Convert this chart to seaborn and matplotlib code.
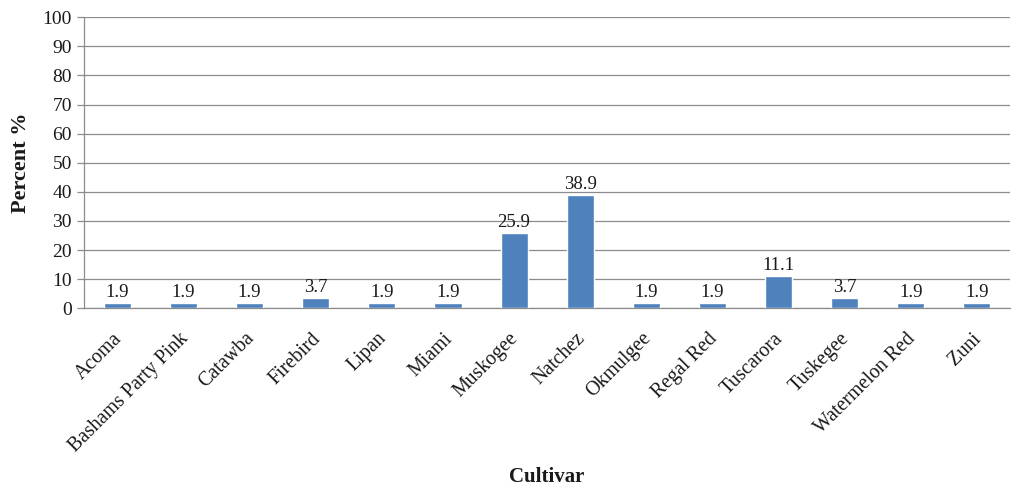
import matplotlib
matplotlib.use("Agg")
import matplotlib.pyplot as plt
import matplotlib.transforms as mtransforms
import seaborn as sns
import pandas as pd

cultivars = ["Acoma", "Bashams Party Pink", "Catawba", "Firebird", "Lipan", "Miami",
             "Muskogee", "Natchez", "Okmulgee", "Regal Red", "Tuscarora", "Tuskegee",
             "Watermelon Red", "Zuni"]
percent = [1.9, 1.9, 1.9, 3.7, 1.9, 1.9, 25.9, 38.9, 1.9, 1.9, 11.1, 3.7, 1.9, 1.9]
y_ticks = [0, 10, 20, 30, 40, 50, 60, 70, 80, 90, 100]

df = pd.DataFrame({"Cultivar": cultivars, "Percent": percent})

sns.set_theme(style="white")
plt.rcParams["font.family"] = ["Liberation Serif", "DejaVu Serif"]

fig, ax = plt.subplots(figsize=(10.16, 4.91), dpi=100)
fig.subplots_adjust(left=0.083, right=0.994, top=0.965, bottom=0.372)

sns.barplot(data=df, x="Cultivar", y="Percent", color="#4F81BD", width=0.41,
            saturation=1, ax=ax, zorder=3)

for i, v in enumerate(percent):
    ax.text(i, v + 0.7, f"{v:.1f}", ha="center", va="bottom", fontsize=13.5,
            color="#1a1a1a", zorder=4)

ax.set_ylim(0, 100)
ax.set_yticks(y_ticks)
ax.set_xlim(-0.5, len(cultivars) - 0.5)
ax.yaxis.grid(True, color="#8c8c8c", linewidth=0.9, zorder=0)
ax.set_axisbelow(True)

for side in ["top", "right"]:
    ax.spines[side].set_visible(False)
for side in ["left", "bottom"]:
    ax.spines[side].set_color("#8c8c8c")
    ax.spines[side].set_linewidth(0.9)

ax.tick_params(axis="y", which="major", left=True, length=5, width=0.9, color="#8c8c8c",
               labelsize=14, pad=4, labelcolor="#1a1a1a")
ax.tick_params(axis="x", bottom=False, labelsize=14.3, pad=9, labelcolor="#1a1a1a")
shift = mtransforms.ScaledTranslation(-5 / 100, 0, fig.dpi_scale_trans)
for lbl in ax.get_xticklabels():
    lbl.set_rotation(45)
    lbl.set_ha("right")
    lbl.set_rotation_mode("anchor")
    lbl.set_transform(lbl.get_transform() + shift)

ax.set_ylabel("Percent %", fontsize=16, fontweight="bold", labelpad=8, color="#1a1a1a")
ax.set_xlabel("Cultivar", fontsize=15, fontweight="bold", color="#1a1a1a")
ax.xaxis.set_label_coords(0.5, -0.545)

fig.savefig("out.png", dpi=100)
